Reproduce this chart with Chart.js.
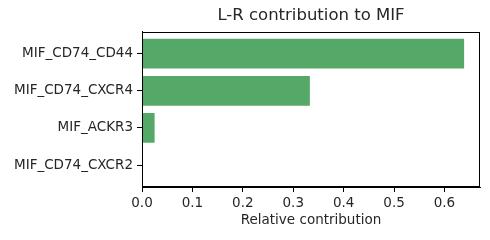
<!DOCTYPE html>
<html>
<head>
<meta charset="utf-8">
<script src="https://cdn.jsdelivr.net/npm/chart.js@4"></script>
<style>
  html, body { margin: 0; padding: 0; background: #fff; }
</style>
</head>
<body>
<canvas id="lrChart" width="490" height="240"></canvas>
<script>
const pairs = ["MIF_CD74_CD44", "MIF_CD74_CXCR4", "MIF_ACKR3", "MIF_CD74_CXCR2"];
const contribution = [0.639, 0.333, 0.025, 0.0];
const xTicks = [0.0, 0.1, 0.2, 0.3, 0.4, 0.5, 0.6];

const FONT = "'DejaVu Sans', sans-serif";
const TEXT = "#262626";

// box round the plot area, like the four matplotlib spines
const frame = {
  id: "frame",
  afterDraw(chart) {
    const a = chart.chartArea;
    const c = chart.ctx;
    const l = Math.round(a.left) + 0.5, t = Math.round(a.top) + 0.5;
    const r = Math.round(a.right) - 0.5, b = Math.round(a.bottom) - 0.5;
    c.save();
    c.strokeStyle = "#000";
    c.lineWidth = 1;
    c.strokeRect(l, t, r - l, b - t);
    c.restore();
  }
};

const ctx = document.getElementById("lrChart").getContext("2d");

new Chart(ctx, {
  type: "bar",
  data: {
    datasets: [{
      data: contribution.map((v, i) => ({ x: v, y: i })),
      backgroundColor: "#55a868",
      borderWidth: 0,
      barPercentage: 0.8,
      categoryPercentage: 1.0
    }]
  },
  plugins: [frame],
  options: {
    indexAxis: "y",
    responsive: false,
    animation: false,
    layout: { padding: { left: 0, right: 10, top: 0, bottom: 10 } },
    plugins: {
      legend: { display: false },
      tooltip: { enabled: false },
      title: {
        display: true,
        text: "L-R contribution to MIF",
        fullSize: false,
        color: TEXT,
        font: { family: FONT, size: 16.5, weight: "normal", lineHeight: 1.2 },
        padding: { top: 6, bottom: 6 }
      }
    },
    scales: {
      x: {
        type: "linear",
        min: 0,
        max: 0.6705,
        afterBuildTicks: (s) => { s.ticks = xTicks.map(v => ({ value: v })); },
        afterFit: (s) => { s.height = 43; },
        ticks: {
          color: TEXT,
          font: { family: FONT, size: 13.5 },
          padding: 3,
          maxRotation: 0,
          callback: (v) => Number(v).toFixed(1)
        },
        grid: { drawOnChartArea: false, tickLength: 5, tickColor: "#000", tickWidth: 1 },
        border: { display: true, color: "#000" },
        title: {
          display: true,
          text: "Relative contribution",
          color: TEXT,
          font: { family: FONT, size: 13.5 },
          padding: { top: 2, bottom: 1 }
        }
      },
      y: {
        type: "linear",
        reverse: true,
        offset: false,
        min: -0.59,
        max: 3.59,
        afterBuildTicks: (s) => { s.ticks = pairs.map((p, i) => ({ value: i })); },
        afterFit: (s) => { s.width = 142; },
        ticks: {
          color: TEXT,
          font: { family: FONT, size: 13.5 },
          padding: 4,
          callback: (v) => pairs[v]
        },
        grid: { offset: false, drawOnChartArea: false, tickLength: 5, tickColor: "#000", tickWidth: 1 },
        border: { display: true, color: "#000" }
      }
    }
  }
});
</script>
</body>
</html>
